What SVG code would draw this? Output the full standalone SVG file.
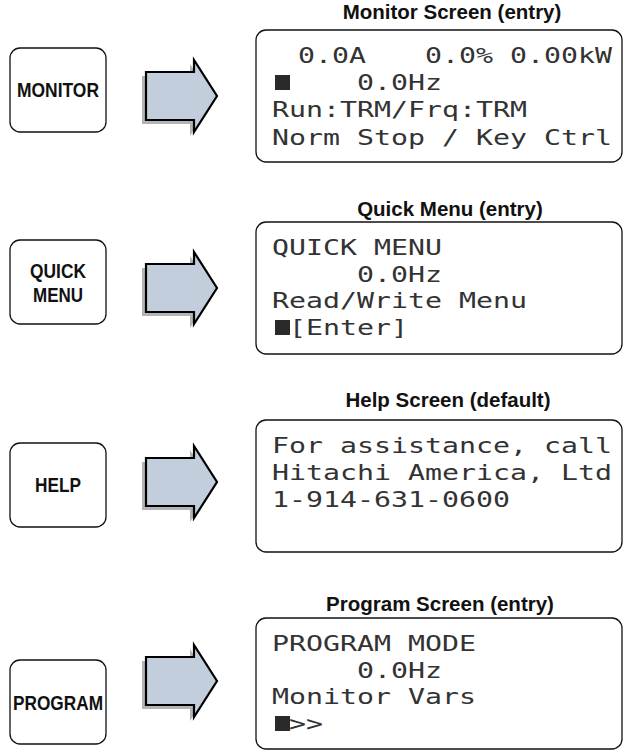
<svg xmlns="http://www.w3.org/2000/svg" width="623" height="750" viewBox="0 0 623 750">
<defs>
<style>
.bg{fill:#ffffff}
.btn{fill:#ffffff;stroke:#111;stroke-width:1.3}
.btnt{font-family:"Liberation Sans",Arial,sans-serif;font-weight:bold;font-size:21px;fill:#111;text-anchor:middle}
.title{font-family:"Liberation Sans",Arial,sans-serif;font-weight:bold;font-size:20.5px;fill:#111;text-anchor:middle}
.scr{fill:#ffffff;stroke:#111;stroke-width:1.3}
.lcd{font-family:"DejaVu Sans Mono","Liberation Mono",monospace;font-size:21.5px;fill:#333}
.cur{fill:#2a2a2a}
.arr{fill:#c2cedb;stroke:#000;stroke-width:2.2;stroke-linejoin:miter}
.shd{fill:#b4b4b4}
</style>
<path id="arrowShape" d="M146,-24 H194 V-36 L217,0 L194,36 V24 H146 Z"/>
</defs>
<rect class="bg" x="0" y="0" width="623" height="750"/>

<g id="connectors">
  <g id="arrow-monitor" transform="translate(0,96)">
    <use href="#arrowShape" class="shd" transform="translate(-4,4)"/>
    <use href="#arrowShape" class="arr"/>
  </g>
  <g id="arrow-quick" transform="translate(0,288)">
    <use href="#arrowShape" class="shd" transform="translate(-4,4)"/>
    <use href="#arrowShape" class="arr"/>
  </g>
  <g id="arrow-help" transform="translate(0,482)">
    <use href="#arrowShape" class="shd" transform="translate(-4,4)"/>
    <use href="#arrowShape" class="arr"/>
  </g>
  <g id="arrow-program" transform="translate(0,681)">
    <use href="#arrowShape" class="shd" transform="translate(-4,4)"/>
    <use href="#arrowShape" class="arr"/>
  </g>
</g>

<g id="btn-monitor">
  <rect class="btn" x="10" y="48" width="96" height="84" rx="10"/>
  <text class="btnt" x="58" y="97" textLength="82" lengthAdjust="spacingAndGlyphs">MONITOR</text>
</g>
<g id="btn-quick">
  <rect class="btn" x="10" y="240" width="96" height="84" rx="10"/>
  <text class="btnt" x="58" y="278" textLength="56" lengthAdjust="spacingAndGlyphs">QUICK</text>
  <text class="btnt" x="58" y="302" textLength="50" lengthAdjust="spacingAndGlyphs">MENU</text>
</g>
<g id="btn-help">
  <rect class="btn" x="10" y="443" width="96" height="84" rx="10"/>
  <text class="btnt" x="58" y="492" textLength="46" lengthAdjust="spacingAndGlyphs">HELP</text>
</g>
<g id="btn-program">
  <rect class="btn" x="10" y="660" width="96" height="84" rx="10"/>
  <text class="btnt" x="58" y="710" textLength="90" lengthAdjust="spacingAndGlyphs">PROGRAM</text>
</g>

<g id="screen-monitor">
  <text class="title" x="452" y="19">Monitor Screen (entry)</text>
  <rect class="scr" x="256" y="30" width="366" height="132" rx="10"/>
  <text class="lcd" transform="translate(298,63) scale(1.314,1)">0.0A</text>
  <text class="lcd" transform="translate(425,63) scale(1.314,1)">0.0% 0.00kW</text>
  <rect class="cur" x="275" y="75" width="15" height="15"/>
  <text class="lcd" transform="translate(357,90) scale(1.314,1)">0.0Hz</text>
  <text class="lcd" transform="translate(272,117) scale(1.314,1)">Run:TRM/Frq:TRM</text>
  <text class="lcd" transform="translate(272,145) scale(1.314,1)">Norm Stop / Key Ctrl</text>
</g>

<g id="screen-quick">
  <text class="title" x="450" y="216">Quick Menu (entry)</text>
  <rect class="scr" x="256" y="222" width="366" height="132" rx="10"/>
  <text class="lcd" transform="translate(272,255) scale(1.314,1)">QUICK MENU</text>
  <text class="lcd" transform="translate(357,282) scale(1.314,1)">0.0Hz</text>
  <text class="lcd" transform="translate(272,308) scale(1.314,1)">Read/Write Menu</text>
  <rect class="cur" x="275" y="320" width="15" height="15"/>
  <text class="lcd" transform="translate(289,335) scale(1.314,1)">[Enter]</text>
</g>

<g id="screen-help">
  <text class="title" x="448" y="407">Help Screen (default)</text>
  <rect class="scr" x="256" y="420" width="366" height="132" rx="10"/>
  <text class="lcd" transform="translate(272,453) scale(1.314,1)">For assistance, call</text>
  <text class="lcd" transform="translate(272,480) scale(1.314,1)">Hitachi America, Ltd</text>
  <text class="lcd" transform="translate(272,507) scale(1.314,1)">1-914-631-0600</text>
</g>

<g id="screen-program">
  <text class="title" x="440" y="611">Program Screen (entry)</text>
  <rect class="scr" x="256" y="618" width="366" height="131" rx="10"/>
  <text class="lcd" transform="translate(272,651) scale(1.314,1)">PROGRAM MODE</text>
  <text class="lcd" transform="translate(357,678) scale(1.314,1)">0.0Hz</text>
  <text class="lcd" transform="translate(272,704) scale(1.314,1)">Monitor Vars</text>
  <rect class="cur" x="275" y="716" width="15" height="15"/>
  <text class="lcd" transform="translate(289,731) scale(1.314,1)">&gt;&gt;</text>
</g>
</svg>
